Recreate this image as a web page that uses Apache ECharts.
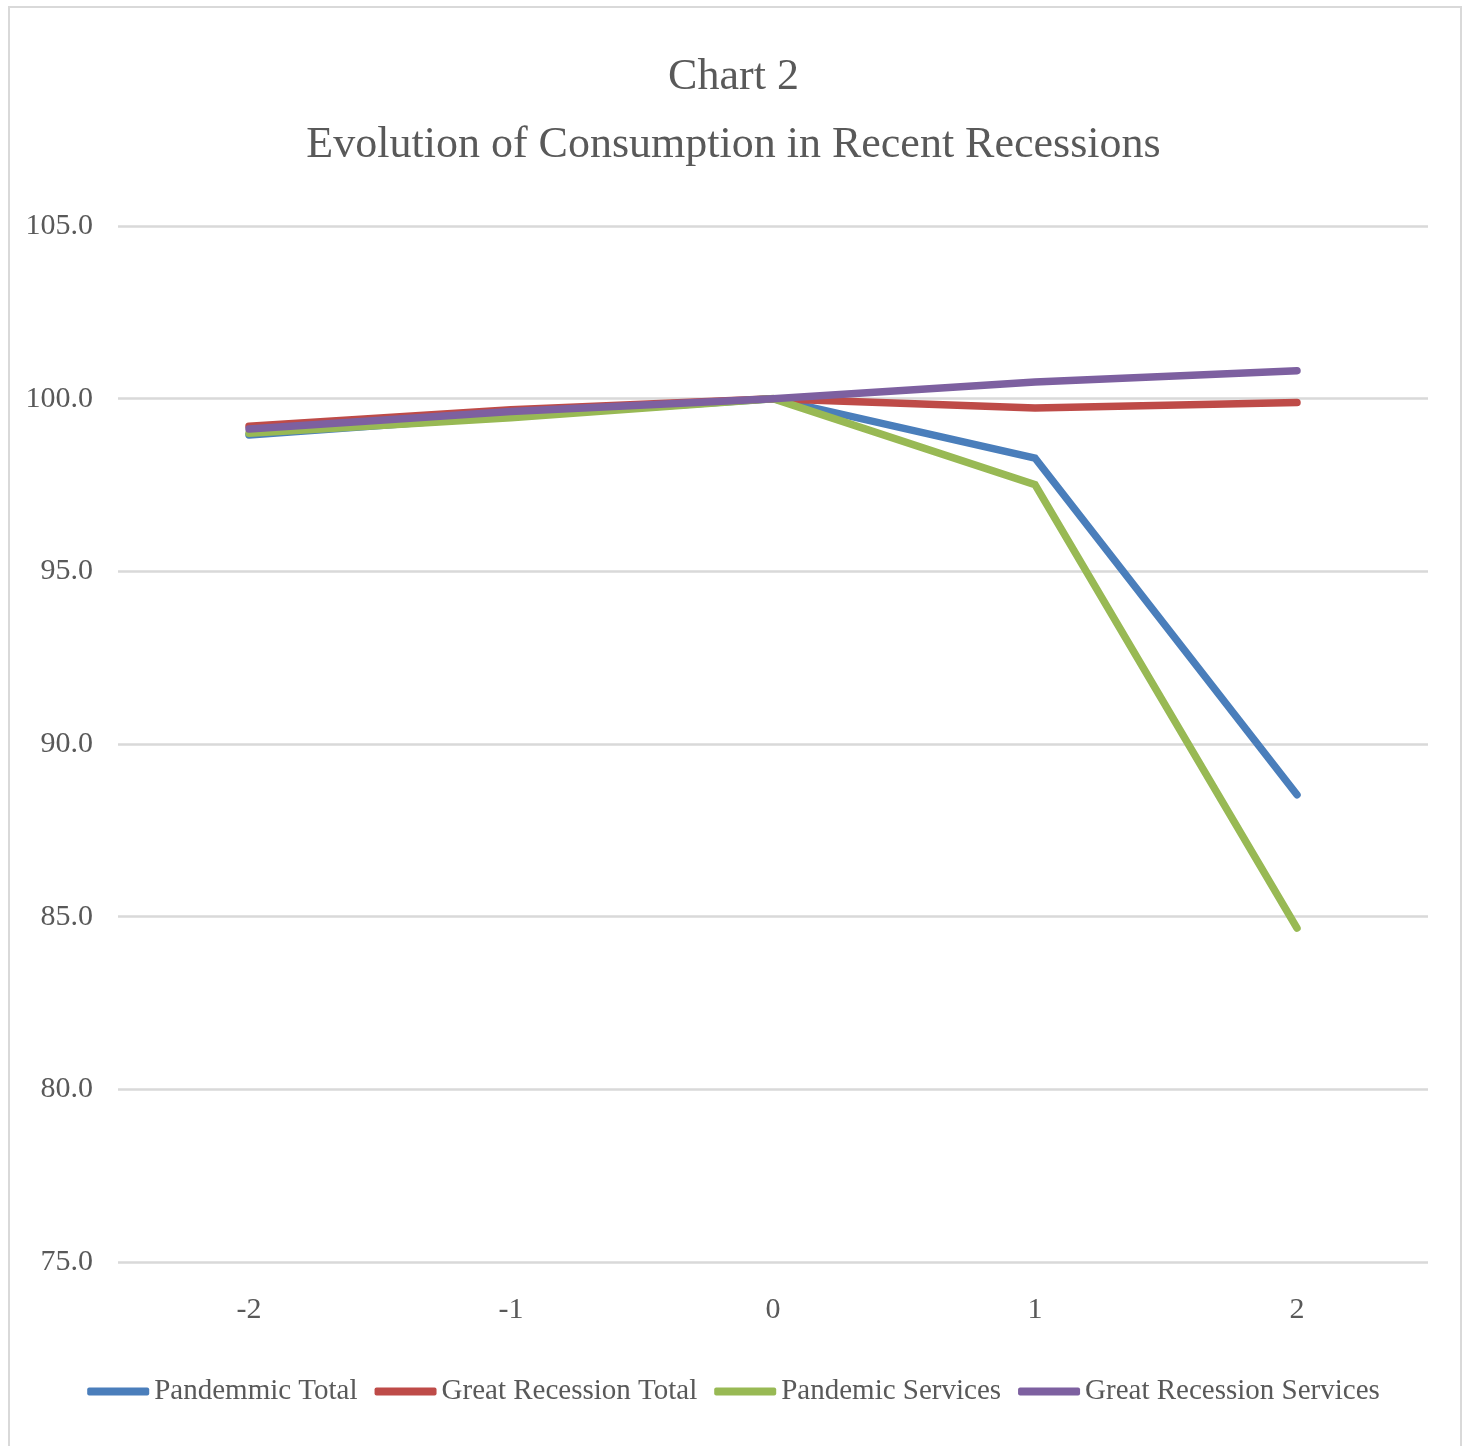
<!DOCTYPE html>
<html>
<head>
<meta charset="utf-8">
<style>
html,body{margin:0;padding:0;background:#fff;}
#chart{width:1467px;height:1446px;}
</style>
<script src="https://cdn.jsdelivr.net/npm/echarts@6/dist/echarts.min.js"></script>
</head>
<body>
<div id="chart"></div>
<script>
const categories = ['-2', '-1', '0', '1', '2'];
const pandemicTotal = [98.95, 99.5, 100, 98.28, 88.53];
const greatRecessionTotal = [99.2, 99.68, 100, 99.73, 99.89];
const pandemicServices = [99.0, 99.45, 100, 97.51, 84.67];
const greatRecessionServices = [99.12, 99.63, 100, 100.48, 100.81];
const seriesNames = ['Pandemmic Total', 'Great Recession Total', 'Pandemic Services', 'Great Recession Services'];
const colors = ['#4A7EBB', '#BE4B48', '#98B954', '#7D60A0'];
const yTicks = { min: 75, max: 105, interval: 5 };

const FONT = 'Liberation Serif';
const chart = echarts.init(document.getElementById('chart'));
const mk = (name, data, color) => ({
  name, type: 'line', data, symbol: 'none',
  lineStyle: { color, width: 7.5, cap: 'round', join: 'miter' },
  itemStyle: { color },
  emphasis: { disabled: true }
});
chart.setOption({
  animation: false,
  color: colors,
  graphic: [{
    type: 'rect', shape: { x: 9, y: 7, width: 1452, height: 1460 },
    style: { fill: 'none', stroke: '#d9d9d9', lineWidth: 2 }, silent: true, z: -10
  }],
  title: {
    text: 'Chart 2\nEvolution of Consumption in Recent Recessions',
    left: 'center', top: 43, padding: 0,
    textStyle: { fontFamily: FONT, fontSize: 44, fontWeight: 'normal', color: '#595959', lineHeight: 68 }
  },
  grid: { left: 118, right: 39, top: 226, bottom: 184, containLabel: false },
  xAxis: {
    type: 'category', data: categories, boundaryGap: true,
    axisLine: { show: false }, axisTick: { show: false },
    axisLabel: { fontFamily: FONT, fontSize: 30, color: '#595959', margin: 33 }
  },
  yAxis: {
    type: 'value', min: yTicks.min, max: yTicks.max, interval: yTicks.interval,
    axisLine: { show: false }, axisTick: { show: false },
    splitLine: { lineStyle: { color: '#d9d9d9', width: 2.5 } },
    axisLabel: { fontFamily: FONT, fontSize: 30, color: '#595959', margin: 25, formatter: v => v.toFixed(1) }
  },
  legend: {
    bottom: 35, left: 'center', itemWidth: 62, itemHeight: 8, itemGap: 17,
    icon: 'roundRect',
    textStyle: { fontFamily: FONT, fontSize: 29, color: '#595959' },
    data: seriesNames
  },
  series: [
    mk(seriesNames[0], pandemicTotal, colors[0]),
    mk(seriesNames[1], greatRecessionTotal, colors[1]),
    mk(seriesNames[2], pandemicServices, colors[2]),
    mk(seriesNames[3], greatRecessionServices, colors[3])
  ]
});
</script>
</body>
</html>
